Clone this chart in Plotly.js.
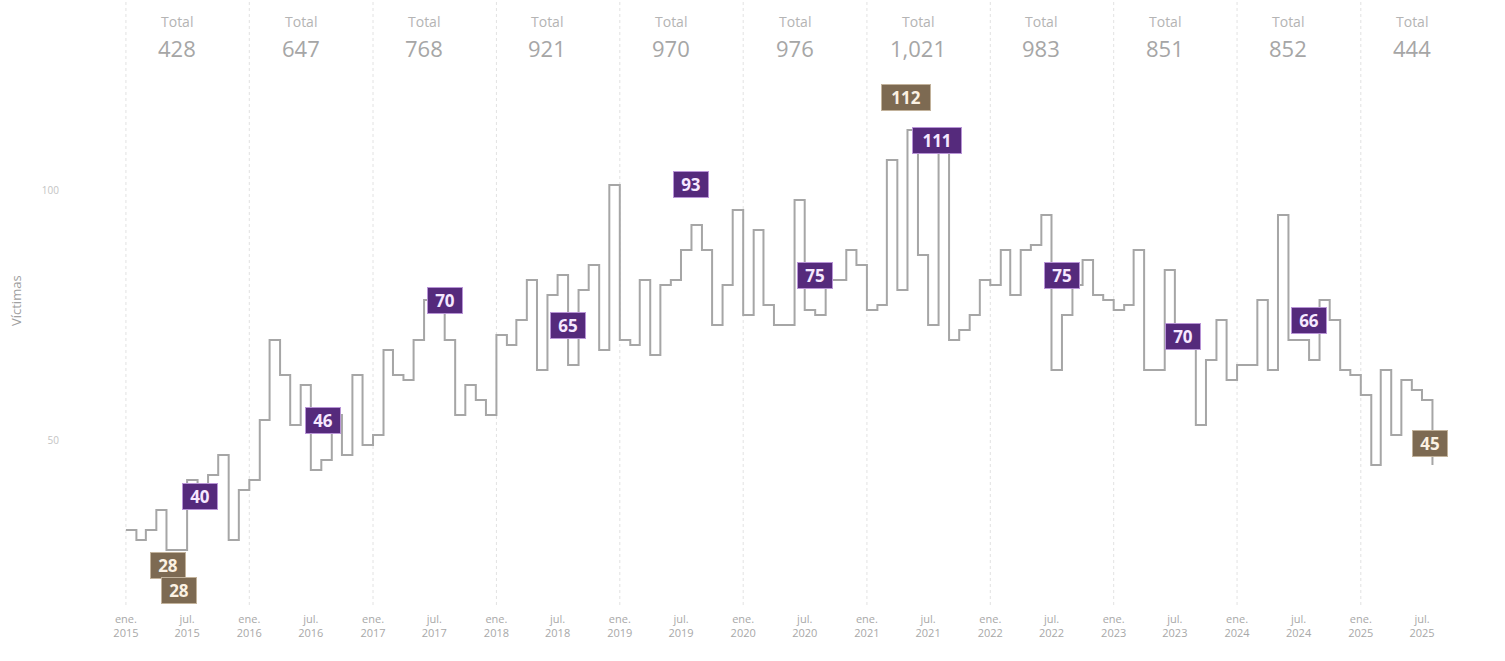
<!DOCTYPE html>
<html>
<head>
<meta charset="utf-8">
<script src="https://cdn.plot.ly/plotly-3.0.1.min.js"></script>
<style>
  html, body { margin: 0; padding: 0; background: #ffffff; }
  #chart { width: 1505px; height: 661px; }
</style>
</head>
<body>
<div id="chart"></div>
<script>
// ---------------- DATA ----------------
const years = [2015, 2016, 2017, 2018, 2019, 2020, 2021, 2022, 2023, 2024, 2025];
const v2015 = [32, 30, 32, 36, 28, 28, 42, 40, 43, 47, 30, 40];
const v2016 = [42, 54, 70, 63, 53, 61, 44, 46, 55, 47, 63, 49];
const v2017 = [51, 68, 63, 62, 70, 78, 77, 70, 55, 61, 58, 55];
const v2018 = [71, 69, 74, 82, 64, 79, 83, 65, 80, 85, 68, 101];
const v2019 = [70, 69, 82, 67, 81, 82, 88, 93, 88, 73, 81, 96];
const v2020 = [75, 92, 77, 73, 73, 98, 76, 75, 82, 82, 88, 85];
const v2021 = [76, 77, 106, 80, 112, 87, 73, 111, 70, 72, 75, 82];
const v2022 = [81, 88, 79, 88, 89, 95, 64, 75, 81, 86, 79, 78];
const v2023 = [76, 77, 88, 64, 64, 84, 73, 70, 53, 66, 74, 62];
const v2024 = [65, 65, 78, 64, 95, 70, 70, 66, 78, 74, 64, 63];
const v2025 = [59, 45, 64, 51, 62, 60, 58, 45];
const yearTotals = [428, 647, 768, 921, 970, 976, 1021, 983, 851, 852, 444];
const monthAbbr = ["ene.", "feb.", "mar.", "abr.", "may.", "jun.", "jul.", "ago.", "sep.", "oct.", "nov.", "dic."];
const highlightMonth = 7; // agosto: mes resaltado cada año

// ---------------- STYLE ----------------
const purpleShift = [-6, 40, 40, 40, 41, 40, -5, 40, 4, 40]; // yshift of each yearly label (px)
const purpleXShift = [2, 2, 0, 0, 0, 0, -2, 0, -2, 0];
const brownMinShift = [[2, -15], [2, -40]];
const brownMaxShift = [-1, 33];
const brownLastShift = [-2, 22];

// ---------------- BUILD SERIES ----------------
const yearSeries = [v2015, v2016, v2017, v2018, v2019, v2020, v2021, v2022, v2023, v2024, v2025];
const xDates = [], yVals = [];
yearSeries.forEach((arr, k) => {
  arr.forEach((v, m) => {
    xDates.push(`${years[k]}-${String(m + 1).padStart(2, "0")}-01`);
    yVals.push(v);
  });
});

const trace = {
  type: "scatter",
  mode: "lines",
  x: xDates,
  y: yVals,
  line: { shape: "hv", color: "#a6a6a6", width: 2 },
  hoverinfo: "skip",
  showlegend: false
};

// ---------------- ANNOTATIONS ----------------
const font = "'Open Sans', 'Noto Sans', sans-serif";
const annotations = [];

// Totals per year
years.forEach((yr, k) => {
  annotations.push({
    xref: "x", yref: "paper", x: `${yr}-06-01`, y: 0.964,
    text: "Total", showarrow: false, yanchor: "middle",
    font: { family: font, size: 14, color: "#b4b4b4" }
  });
  annotations.push({
    xref: "x", yref: "paper", x: `${yr}-06-01`, y: 0.921,
    text: yearTotals[k].toLocaleString("en-US"), showarrow: false, yanchor: "middle",
    font: { family: font, size: 22, color: "#a6a6a6" }
  });
});

function box(x, y, txt, bg, fg, border, xs, ys) {
  const w = String(txt).length > 2 ? 44 : 30;
  return {
    xref: "x", yref: "y", x: x, y: y, text: `<b>${txt}</b>`, showarrow: false,
    xanchor: "center", yanchor: "middle", xshift: xs, yshift: ys,
    bgcolor: bg, bordercolor: border, borderwidth: 1, borderpad: 2,
    width: w, height: 21,
    font: { family: font, size: 17, color: fg }
  };
}

// Highlighted month of each complete year (purple)
yearSeries.forEach((arr, k) => {
  if (k < purpleShift.length && arr.length > highlightMonth) {
    annotations.push(box(`${years[k]}-08-01`, arr[highlightMonth], arr[highlightMonth],
      "#552a7c", "#f6e8ff", "#b894d6", purpleXShift[k], purpleShift[k]));
  }
});

// Minimum(s), maximum and last value (brown)
const minV = Math.min(...yVals), maxV = Math.max(...yVals);
let minCount = 0;
yVals.forEach((v, i) => {
  if (v === minV && minCount < brownMinShift.length) {
    const s = brownMinShift[minCount++];
    annotations.push(box(xDates[i], v, v, "#7d6a52", "#fbf1e2", "#c2b29b", s[0], s[1]));
  }
});
const iMax = yVals.indexOf(maxV);
annotations.push(box(xDates[iMax], maxV, maxV, "#7d6a52", "#fbf1e2", "#c2b29b", brownMaxShift[0], brownMaxShift[1]));
const iLast = yVals.length - 1;
annotations.push(box(xDates[iLast], yVals[iLast], yVals[iLast], "#7d6a52", "#fbf1e2", "#c2b29b", brownLastShift[0], brownLastShift[1]));

// Y title
annotations.push({
  xref: "paper", yref: "paper", x: -0.0307, y: 0.504, textangle: -90,
  text: "Víctimas", showarrow: false, xanchor: "center", yanchor: "middle",
  font: { family: font, size: 13, color: "#a0a0a0" }
});

// ---------------- GRID (year starts) ----------------
const shapes = years.map(yr => ({
  type: "line", xref: "x", yref: "paper", x0: `${yr}-01-01`, x1: `${yr}-01-01`, y0: 0, y1: 1,
  line: { color: "#e2e2e2", width: 1, dash: "dot" }, layer: "below"
}));

// ---------------- X TICKS ----------------
const tickVals = [], tickText = [];
years.forEach(yr => {
  [0, 6].forEach(m => {
    tickVals.push(`${yr}-${String(m + 1).padStart(2, "0")}-01`);
    tickText.push(`${monthAbbr[m]}<br>${yr}`);
  });
});

const layout = {
  width: 1505, height: 661,
  margin: { l: 60, r: 10, t: 0, b: 56 },
  paper_bgcolor: "#ffffff", plot_bgcolor: "#ffffff",
  showlegend: false,
  xaxis: {
    type: "date", range: ["2014-06-20", "2026-02-02"],
    tickmode: "array", tickvals: tickVals, ticktext: tickText,
    tickfont: { family: font, size: 11, color: "#a8a8a8" },
    ticklabelstandoff: 6,
    showgrid: false, zeroline: false, showline: false, ticks: "",
    fixedrange: true
  },
  yaxis: {
    range: [17, 138],
    tickmode: "array", tickvals: [50, 100], ticktext: ["50", "100"],
    tickfont: { family: font, size: 10, color: "#c4c4c4" },
    showgrid: false, zeroline: false, showline: false, ticks: "",
    fixedrange: true
  },
  annotations: annotations,
  shapes: shapes
};

Plotly.newPlot("chart", [trace], layout, { displayModeBar: false, staticPlot: true });
</script>
</body>
</html>
